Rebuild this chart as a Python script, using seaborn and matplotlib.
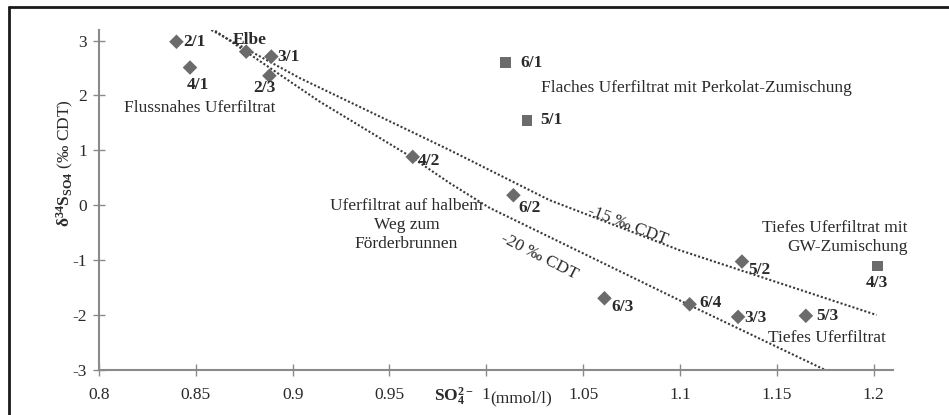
import numpy as np
import pandas as pd
import matplotlib
matplotlib.use("Agg")
import matplotlib.pyplot as plt
import seaborn as sns
from matplotlib.lines import Line2D

# ---------------- data ----------------
diamond_labels = ["2/1", "4/1", "Elbe", "3/1", "2/3", "4/2", "6/2", "6/3", "6/4", "3/3", "5/3", "5/2"]
diamond_x = [0.840, 0.847, 0.876, 0.889, 0.888, 0.962, 1.014, 1.061, 1.105, 1.130, 1.165, 1.132]
diamond_y = [2.98, 2.51, 2.80, 2.71, 2.36, 0.88, 0.18, -1.70, -1.81, -2.04, -2.02, -1.03]

square_labels = ["6/1", "5/1", "4/3"]
square_x = [1.010, 1.021, 1.202]
square_y = [2.60, 1.55, -1.11]

line15_x = [0.858, 0.9036, 0.981, 1.0325, 1.0995, 1.2015]
line15_y = [3.195, 2.319, 1.005, 0.093, -0.819, -2.005]
line20_x = [0.860, 0.914, 0.961, 0.981, 1.0015, 1.1046, 1.1751]
line20_y = [3.18, 1.887, 0.883, 0.404, -0.047, -1.82, -3.01]

xticks = [0.8, 0.85, 0.9, 0.95, 1.0, 1.05, 1.1, 1.15, 1.2]
xticklabels = ["0.8", "0.85", "0.9", "0.95", "1", "1.05", "1.1", "1.15", "1.2"]
yticks = [-3, -2, -1, 0, 1, 2, 3]

# ---------------- style ----------------
sns.set_theme(style="white")
plt.rcParams["font.family"] = ["Liberation Serif", "DejaVu Serif"]
plt.rcParams["mathtext.fontset"] = "custom"
plt.rcParams["mathtext.rm"] = "Liberation Serif"
plt.rcParams["mathtext.bf"] = "Liberation Serif:bold"
plt.rcParams["mathtext.it"] = "Liberation Serif:italic"
plt.rcParams["axes.unicode_minus"] = False

FS = 12.5
TXT = "#2a2a2a"
MARK = "#6b6b6b"
AXC = "#8a8a8a"

fig = plt.figure(figsize=(9.49, 4.15), dpi=100)
ax = fig.add_axes([0.1043, 0.1096, 0.8367, 0.8188])

# mixing lines
sns.lineplot(x=line15_x, y=line15_y, sort=False, estimator=None, ax=ax,
             color="#3a3a3a", lw=1.5, linestyle=(0, (1, 1)))
sns.lineplot(x=line20_x, y=line20_y, sort=False, estimator=None, ax=ax,
             color="#3a3a3a", lw=1.5, linestyle=(0, (1, 1)))

# points
sns.scatterplot(x=diamond_x, y=diamond_y, marker="D", s=55, color=MARK,
                edgecolor="none", ax=ax, clip_on=False, zorder=3)
sns.scatterplot(x=square_x, y=square_y, marker="s", s=60, color=MARK,
                edgecolor="none", ax=ax, clip_on=False, zorder=3)

# point labels: (dx px, dy px, ha)
label_offsets = {
    "2/1": (7, 0, "left"), "4/1": (8, -17, "center"), "Elbe": (4, 12, "center"),
    "3/1": (6, 0, "left"), "2/3": (-5, -12, "center"), "4/2": (5, -4, "left"),
    "6/2": (5, -13, "left"), "6/3": (7, -9, "left"), "6/4": (10, 1, "left"),
    "3/3": (6, -1, "left"), "5/3": (10, 0, "left"), "5/2": (6, -8, "left"),
    "6/1": (15, 0, "left"), "5/1": (13, 0, "left"), "4/3": (-1, -17, "center"),
}
for lab, x, y in zip(diamond_labels + square_labels, diamond_x + square_x, diamond_y + square_y):
    dx, dy, ha = label_offsets[lab]
    ax.annotate(lab, (x, y), xytext=(dx, dy), textcoords="offset pixels",
                ha=ha, va="center", fontsize=FS, fontweight="bold", color=TXT)

# group annotations
ax.text(0.852, 1.772, "Flussnahes Uferfiltrat", ha="center", va="center", fontsize=FS, color=TXT)
ax.text(1.0282, 2.137, "Flaches Uferfiltrat mit Perkolat-Zumischung", ha="left", va="center",
        fontsize=FS, color=TXT)
ax.text(0.9588, -0.363, "Uferfiltrat auf halbem\nWeg zum\nFörderbrunnen", ha="center",
        va="center", multialignment="center", fontsize=FS, color=TXT, linespacing=1.25)
ax.text(1.2175, -0.591, "Tiefes Uferfiltrat mit\nGW-Zumischung", ha="right", va="center",
        multialignment="right", fontsize=FS, color=TXT, linespacing=1.25)
ax.text(1.2062, -2.416, "Tiefes Uferfiltrat", ha="right", va="center", fontsize=FS, color=TXT)
ax.text(1.0732, -0.366, "-15 ‰ CDT", ha="center", va="center", rotation=-21,
        rotation_mode="anchor", fontsize=FS, color=TXT)
ax.text(1.0273, -0.93, "-20 ‰ CDT", ha="center", va="center", rotation=-27,
        rotation_mode="anchor", fontsize=FS, color=TXT)

# axes
ax.set_xlim(0.8, 1.21)
ax.set_ylim(-3, 3.2)
ax.set_xticks(xticks, xticklabels)
ax.set_yticks(yticks)
for s in ["top", "right"]:
    ax.spines[s].set_visible(False)
for s in ["left", "bottom"]:
    ax.spines[s].set_color(AXC)
    ax.spines[s].set_linewidth(1.5)
ax.tick_params(bottom=True, left=True, direction="inout", length=9, width=1,
               color=AXC, labelsize=FS, labelcolor=TXT)
ax.tick_params(axis="x", pad=8)
ax.tick_params(axis="y", pad=4)
ax.set_facecolor("none")

# axis titles
xt = ax.get_xaxis_transform()
ax.text(0.9933, -0.0956, r"$\mathbf{SO_4^{2-}}$", transform=xt, ha="right", va="baseline",
        fontsize=FS, color=TXT)
ax.text(1.0021, -0.0956, "(mmol/l)", transform=xt, ha="left", va="baseline",
        fontsize=FS, color=TXT)
fig.text(65 / 949, 1 - 163 / 415, r"$\mathbf{\delta^{34}S_{SO4}}$ (‰ CDT)", rotation=90,
         ha="center", va="center", fontsize=FS, color=TXT)

# outer frame (left & top visible)
fig.add_artist(Line2D([9 / 949, 9 / 949], [0, 1 - 7 / 415], color="#1a1a1a", lw=2,
                      transform=fig.transFigure))
fig.add_artist(Line2D([9 / 949, 1], [1 - 7 / 415, 1 - 7 / 415], color="#1a1a1a", lw=2,
                      transform=fig.transFigure))

fig.savefig("out.png", dpi=100)
